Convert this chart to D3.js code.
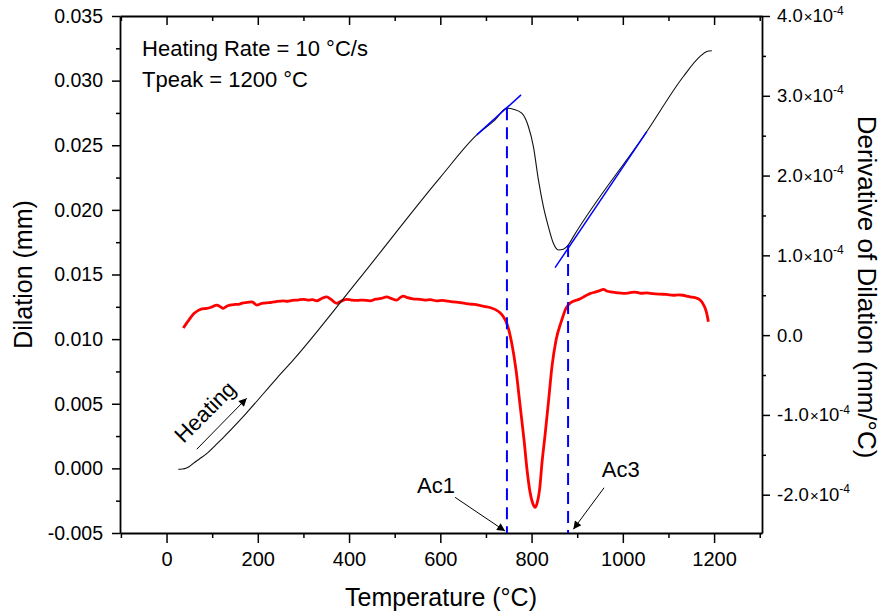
<!DOCTYPE html>
<html><head><meta charset="utf-8">
<script src="https://cdn.jsdelivr.net/npm/d3@7"></script>
<style>
body{margin:0;background:#fff;}
text{font-family:"Liberation Sans",Arial,Helvetica,sans-serif;fill:#000;}
</style></head><body>
<svg id="chart" width="891" height="613"></svg>
<script>
// ---------- data ----------
const dilationT = [25.7,34,42.6,50,57,64,72,90,108,174.5,241.5,277.9,420.4,599.5,679.9,720,745.6,760.1,778.5,793,804,815,825.9,836.8,847.8,858.7,869.7,880.7,891.6,1052.5,1132.7,1169.3,1184,1195];
const dilationD = [-0.00007,-0.00005,0.00001,0.00015,0.00034,0.00053,0.00073,0.0012,0.00181,0.00426,0.00697,0.00839,0.01458,0.0225,0.0258,0.02697,0.02787,0.02779,0.02748,0.02645,0.0249,0.02232,0.02026,0.01871,0.01742,0.0169,0.01696,0.01729,0.01793,0.02606,0.03032,0.03187,0.03225,0.03231];

// derivative of dilation, in units of 1e-4 mm/°C
const derivT = [36.8,44,51.5,60,69.7,78,88.1,98,110,117,124.5,131,139.2,150,160,168.3,177,186.7,192,197.7,205,212,219.6,230,240,256,265,275,288,299.8,310,320,329.2,340,351.1,360,373,384,395,405,418,430,446,458,470,482.6,492,504.5,512,519,528,540,555.6,566,578,592.2,605,617,628.6,640,652,665.2,675,688,701.8,712,723.7,731,738.2,744,749.2,757.3,766,774.8,783.6,790.1,796.7,803.3,807.7,812,817.5,823,829.6,837.3,845,853.7,864.7,875.6,886.6,899.7,908,917.3,928,939.2,948,957.4,966,976.5,988,1001.2,1014,1026.8,1040,1052.5,1066,1081.6,1096,1110.8,1122,1132,1140,1147.4,1158,1169.3,1175,1180.3,1184,1187.5];
const derivV = [0.09,0.15,0.21,0.27,0.31,0.33,0.335,0.35,0.376,0.36,0.335,0.36,0.376,0.385,0.39,0.405,0.41,0.418,0.40,0.376,0.39,0.40,0.405,0.41,0.42,0.43,0.425,0.435,0.44,0.448,0.44,0.445,0.43,0.46,0.48,0.45,0.398,0.43,0.448,0.44,0.435,0.44,0.43,0.45,0.46,0.48,0.46,0.439,0.47,0.489,0.47,0.455,0.448,0.44,0.445,0.43,0.435,0.425,0.418,0.41,0.40,0.389,0.385,0.37,0.355,0.34,0.31,0.28,0.23,0.17,0.084,-0.125,-0.44,-0.88,-1.32,-1.69,-1.97,-2.12,-2.16,-2.11,-1.94,-1.59,-1.25,-0.82,-0.38,-0.06,0.163,0.34,0.41,0.44,0.46,0.49,0.52,0.54,0.555,0.573,0.55,0.54,0.53,0.523,0.53,0.54,0.525,0.53,0.52,0.514,0.51,0.50,0.505,0.50,0.49,0.48,0.47,0.44,0.40,0.34,0.27,0.167];

const tangent1T = [679.9, 777];
const tangent1D = [0.0258, 0.0289];
const tangent2T = [851.5, 1052.5];
const tangent2D = [0.01553, 0.02606];

const acT = [746, 880];
const acTopD = [0.02787, 0.01729];
const acLabels = ["Ac1", "Ac3"];

const xTicks = [0,200,400,600,800,1000,1200];
const xMinorTicks = [-100,100,300,500,700,900,1100,1300];
const yLeftTicks = [-0.005,0,0.005,0.010,0.015,0.020,0.025,0.030,0.035];
const yLeftMinor = [-0.0025,0.0025,0.0075,0.0125,0.0175,0.0225,0.0275,0.0325];
const yRightTicks = [-2,-1,0,1,2,3,4];
const yRightMinor = [-1.5,-0.5,0.5,1.5,2.5,3.5];

// ---------- layout ----------
const svg = d3.select("#chart");
const L = 120, R = 762, T = 16, B = 533;
const x = d3.scaleLinear().domain([-102, 1305]).range([L, R]);
const yL = d3.scaleLinear().domain([-0.005, 0.035]).range([B, T]);
const yR = d3.scaleLinear().domain([-2.48, 4.0]).range([B, T]);

const loc = d3.formatLocale({decimal:".",thousands:",",grouping:[3],currency:["",""],minus:"-"});
const fmtL = loc.format(".3f");
const fmtR = d => (d < 0 ? "-" : "") + Math.abs(d).toFixed(1);

const defs = svg.append("defs");
defs.append("marker").attr("id","ah")
  .attr("viewBox","0 0 10 10").attr("refX",10).attr("refY",5)
  .attr("markerUnits","userSpaceOnUse").attr("markerWidth",12).attr("markerHeight",8)
  .attr("orient","auto")
  .append("path").attr("d","M0,0 L10,5 L0,10 z").attr("fill","#000");

function styleAxis(g, fs){
  g.select(".domain").attr("stroke","#000").attr("stroke-width",1.8);
  g.selectAll(".tick line").attr("stroke","#000").attr("stroke-width",1.5);
  g.selectAll(".tick text").attr("font-size",fs).attr("font-family","Liberation Sans, Arial, sans-serif");
}

// bottom axis
const gB = svg.append("g").attr("transform",`translate(0,${B})`)
  .call(d3.axisBottom(x).tickValues(xTicks).tickSize(10).tickSizeOuter(0).tickPadding(9).tickFormat(d3.format("d")));
styleAxis(gB, 20);
const gBm = svg.append("g").attr("transform",`translate(0,${B})`)
  .call(d3.axisBottom(x).tickValues(xMinorTicks).tickSize(5).tickFormat(""));
gBm.select(".domain").remove(); styleAxis(gBm, 20);

// top axis (inward ticks)
const gT = svg.append("g").attr("transform",`translate(0,${T})`)
  .call(d3.axisTop(x).tickValues(xTicks).tickSize(-9).tickSizeOuter(0).tickFormat(""));
styleAxis(gT, 20);
const gTm = svg.append("g").attr("transform",`translate(0,${T})`)
  .call(d3.axisTop(x).tickValues(xMinorTicks).tickSize(-5).tickFormat(""));
gTm.select(".domain").remove(); styleAxis(gTm, 20);

// left axis
const gL = svg.append("g").attr("transform",`translate(${L},0)`)
  .call(d3.axisLeft(yL).tickValues(yLeftTicks).tickSize(8).tickSizeOuter(0).tickPadding(9).tickFormat(fmtL));
styleAxis(gL, 19.5);
const gLm = svg.append("g").attr("transform",`translate(${L},0)`)
  .call(d3.axisLeft(yL).tickValues(yLeftMinor).tickSize(4).tickFormat(""));
gLm.select(".domain").remove(); styleAxis(gLm, 19.5);

// right axis
const gR = svg.append("g").attr("transform",`translate(${R},0)`)
  .call(d3.axisRight(yR).tickValues(yRightTicks).tickSize(8).tickSizeOuter(0).tickPadding(7));
styleAxis(gR, 18.5);
gR.selectAll(".tick text").each(function(d){
  const t = d3.select(this); t.text(null);
  if (d === 0) { t.append("tspan").text("0.0"); return; }
  t.append("tspan").text(fmtR(d));
  t.append("tspan").text("×").attr("font-size",15).attr("dx",1);
  t.append("tspan").text("10");
  t.append("tspan").text("-4").attr("font-size",12).attr("dy","-0.65em");
});
const gRm = svg.append("g").attr("transform",`translate(${R},0)`)
  .call(d3.axisRight(yR).tickValues(yRightMinor).tickSize(4).tickFormat(""));
gRm.select(".domain").remove(); styleAxis(gRm, 18.5);

// axis titles
svg.append("text").attr("x",(L+R)/2).attr("y",606).attr("text-anchor","middle")
  .attr("font-size",25).text("Temperature (°C)");
svg.append("text").attr("transform",`translate(32,${(T+B)/2}) rotate(-90)`).attr("text-anchor","middle")
  .attr("font-size",25).text("Dilation (mm)");
svg.append("text").attr("transform",`translate(858,287) rotate(90)`).attr("text-anchor","middle")
  .attr("font-size",26).text("Derivative of Dilation (mm/°C)");

// ---------- marks ----------
const plot = svg.append("g");

// derivative (red)
const derivData = derivT.map((t,i)=>({t, v: derivV[i]}));
plot.append("path").datum(derivData)
  .attr("fill","none").attr("stroke","#ff0000").attr("stroke-width",2.8).attr("stroke-linejoin","round")
  .attr("d", d3.line().x(d=>x(d.t)).y(d=>yR(d.v)).curve(d3.curveMonotoneX));

// dilation (black)
const dilData = dilationT.map((t,i)=>({t, v: dilationD[i]}));
plot.append("path").datum(dilData)
  .attr("fill","none").attr("stroke","#111").attr("stroke-width",1.1)
  .attr("d", d3.line().x(d=>x(d.t)).y(d=>yL(d.v)).curve(d3.curveMonotoneX));

// tangents (blue)
[[tangent1T,tangent1D],[tangent2T,tangent2D]].forEach(([tt,dd])=>{
  plot.append("path").datum(tt.map((t,i)=>({t, v: dd[i]})))
    .attr("fill","none").attr("stroke","#0000ff").attr("stroke-width",1.5)
    .attr("d", d3.line().x(d=>x(d.t)).y(d=>yL(d.v)));
});

// dashed Ac lines
acT.forEach((t,i)=>{
  plot.append("line").attr("x1",x(t)).attr("x2",x(t))
    .attr("y1",yL(acTopD[i])).attr("y2",yL(-0.005))
    .attr("stroke","#0000ff").attr("stroke-width",2).attr("stroke-dasharray","12,7");
});

// ---------- annotations ----------
svg.append("text").attr("x",x(-53.7)).attr("y",yL(0.03192)).attr("font-size",22).text("Heating Rate = 10 °C/s");
svg.append("text").attr("x",x(-53.7)).attr("y",yL(0.02952)).attr("font-size",22).text("Tpeak = 1200 °C");

// heating arrow
svg.append("line").attr("x1",x(66.2)).attr("y1",yL(0.00148)).attr("x2",x(175.8)).attr("y2",yL(0.00543))
  .attr("stroke","#000").attr("stroke-width",1).attr("marker-end","url(#ah)");
svg.append("text").attr("transform",`translate(${x(84.2)},${yL(0.00439)}) rotate(-45)`)
  .attr("text-anchor","middle").attr("dy","0.35em").attr("font-size",22).text("Heating");

// Ac labels & arrows
svg.append("text").attr("x",x(549)).attr("y",yL(-0.0019)).attr("font-size",22).text(acLabels[0]);
svg.append("line").attr("x1",x(632.3)).attr("y1",yL(-0.00224)).attr("x2",x(741.9)).attr("y2",yL(-0.00485))
  .attr("stroke","#000").attr("stroke-width",1).attr("marker-end","url(#ah)");
svg.append("text").attr("x",x(953.9)).attr("y",yL(-0.000666)).attr("font-size",22).text(acLabels[1]);
svg.append("line").attr("x1",x(958.9)).attr("y1",yL(-0.0015)).attr("x2",x(891.6)).attr("y2",yL(-0.00471))
  .attr("stroke","#000").attr("stroke-width",1).attr("marker-end","url(#ah)");
</script>
</body></html>
